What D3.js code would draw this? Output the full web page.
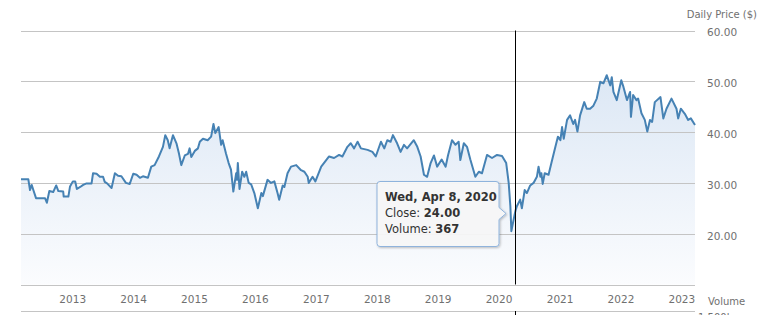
<!DOCTYPE html>
<html>
<head>
<meta charset="utf-8">
<script src="https://cdn.jsdelivr.net/npm/d3@7"></script>
<style>
  html, body { margin: 0; padding: 0; background: #fff; }
  svg { display: block; }
</style>
</head>
<body>
<svg id="chart" width="772" height="315"></svg>
<script>
// ---------------- DATA ----------------
const dates = [
  "2012-02-29","2012-04-13","2012-04-23","2012-05-03","2012-05-13","2012-05-29","2012-07-22","2012-08-02","2012-08-17","2012-09-09",
  "2012-09-27","2012-10-10","2012-11-08","2012-11-11","2012-12-09","2012-12-19","2013-01-05","2013-01-19","2013-01-29","2013-02-18",
  "2013-03-08","2013-03-28","2013-04-27","2013-05-06","2013-05-27","2013-06-16","2013-07-05","2013-07-15","2013-07-29","2013-08-25",
  "2013-09-14","2013-10-03","2013-10-23","2013-11-19","2013-12-12","2014-01-02","2014-01-22","2014-02-11","2014-03-01","2014-03-31",
  "2014-04-20","2014-05-10","2014-06-05","2014-06-29","2014-07-13","2014-07-28","2014-08-08","2014-08-28","2014-09-18","2014-10-03",
  "2014-10-17","2014-11-07","2014-11-26","2014-12-06","2014-12-16","2015-01-06","2015-01-25","2015-02-05","2015-02-24","2015-03-24",
  "2015-04-14","2015-04-28","2015-05-09","2015-05-29","2015-06-13","2015-06-22","2015-07-12","2015-07-28","2015-08-11","2015-08-25",
  "2015-09-11","2015-09-16","2015-09-21","2015-10-01","2015-10-17","2015-10-30","2015-11-10","2015-11-25","2015-12-10","2015-12-29",
  "2016-01-19","2016-02-09","2016-02-18","2016-03-17","2016-04-07","2016-04-27","2016-05-16","2016-05-26","2016-06-16","2016-06-26",
  "2016-07-15","2016-08-05","2016-09-05","2016-10-04","2016-10-24","2016-11-13","2016-11-19","2016-12-12","2016-12-29","2017-02-02",
  "2017-03-21","2017-04-20","2017-05-20","2017-06-09","2017-07-09","2017-07-29","2017-08-18","2017-09-08","2017-09-28","2017-11-07",
  "2017-12-06","2017-12-26","2018-01-26","2018-02-15","2018-03-05","2018-03-25","2018-04-08","2018-05-03","2018-05-24","2018-06-13",
  "2018-07-02","2018-08-11","2018-09-01","2018-09-21","2018-10-11","2018-10-30","2018-11-20","2018-12-10","2018-12-29","2019-01-25",
  "2019-02-18","2019-03-04","2019-03-28","2019-04-18","2019-05-07","2019-05-17","2019-06-07","2019-06-26","2019-07-16","2019-08-15",
  "2019-09-05","2019-09-24","2019-10-24","2019-11-23","2019-12-23","2020-01-22","2020-02-16","2020-03-02","2020-03-12","2020-03-18",
  "2020-04-08","2020-04-14","2020-04-20","2020-05-10","2020-05-20","2020-06-06","2020-06-19","2020-07-09","2020-07-29","2020-08-18",
  "2020-08-28","2020-09-08","2020-09-14","2020-09-22","2020-10-04","2020-10-27","2020-11-13","2020-11-27","2020-12-07","2020-12-22",
  "2021-01-06","2021-01-16","2021-01-26","2021-02-15","2021-03-05","2021-03-24","2021-04-04","2021-04-18","2021-05-04","2021-05-29",
  "2021-06-13","2021-07-03","2021-07-23","2021-08-12","2021-09-02","2021-09-21","2021-10-11","2021-11-01","2021-11-10","2021-11-20",
  "2021-12-10","2022-01-06","2022-01-19","2022-02-09","2022-02-28","2022-03-05","2022-03-18","2022-04-07","2022-04-17","2022-05-07",
  "2022-05-27","2022-06-11","2022-06-27","2022-07-10","2022-07-26","2022-08-29","2022-09-15","2022-10-04","2022-11-03","2022-12-03",
  "2022-12-13","2022-12-29","2023-01-22","2023-02-11","2023-02-27","2023-03-24"
];
const closes = [
  30.7,30.7,28.6,29.6,28.6,27.0,27.0,26.1,28.4,28.2,
  29.5,28.4,28.3,27.3,27.3,29.3,30.3,30.3,28.8,29.2,
  29.6,29.9,29.9,31.9,31.8,31.2,31.2,30.2,29.9,29.0,
  31.9,31.4,31.3,30.0,29.8,31.8,31.6,31.0,31.3,31.0,
  33.2,33.5,35.2,37.1,39.4,38.4,36.8,39.4,37.8,35.8,
  33.5,35.4,35.7,36.8,35.1,36.3,36.8,38.1,38.7,38.4,
  39.1,41.6,39.8,41.0,37.5,38.4,35.8,33.9,32.6,28.3,
  31.9,30.6,33.9,28.8,32.2,31.2,32.2,30.0,29.7,28.0,
  25.0,28.0,27.4,30.6,30.0,30.3,28.0,26.7,29.5,29.2,
  31.9,33.2,33.5,32.5,32.2,31.2,30.0,31.2,30.3,33.2,
  35.2,34.9,35.5,35.2,37.1,37.8,36.8,38.1,36.8,36.5,
  36.1,35.2,38.1,36.8,38.4,38.1,39.4,37.8,36.1,37.5,
  36.8,38.4,37.1,35.2,31.6,31.2,33.9,35.4,33.2,34.6,
  33.2,35.4,38.4,37.5,38.1,34.5,37.8,37.1,34.6,31.2,
  32.2,31.9,35.5,34.9,35.5,35.3,33.9,30.0,25.4,20.5,
  24.0,24.8,25.4,26.7,25.0,28.6,28.0,29.5,30.0,31.2,
  33.2,31.2,31.9,29.8,31.9,31.6,33.9,35.8,37.1,39.1,
  38.4,41.0,38.7,42.4,43.3,41.6,42.4,40.1,43.3,45.9,
  44.6,44.6,45.2,46.6,49.9,49.6,51.2,49.2,50.8,47.9,
  46.3,50.2,48.9,46.3,47.9,43.0,47.3,46.3,46.6,43.7,
  42.4,40.1,42.4,42.0,45.9,46.9,42.7,44.6,46.6,44.6,
  42.7,44.6,43.6,42.4,42.7,41.4
];
const yearTicks = [2013,2014,2015,2016,2017,2018,2019,2020,2021,2022,2023];
const priceTicks = [20, 30, 40, 50, 60];
const axisTitle = "Daily Price ($)";
const volumeTitle = "Volume";
const volumeTickPartial = "1,500k";
const tooltipDate = "2020-04-08";
const tooltipTitle = "Wed, Apr 8, 2020";
const tooltipClose = 24.00;
const tooltipVolume = 367;

// ---------------- CHART ----------------
(function () {
const parse = d3.utcParse("%Y-%m-%d");
const data = dates.map((d, i) => ({ date: parse(d), value: closes[i] }));

const svg = d3.select("#chart");
const pLeft = 21, pRight = 695, pTop = 30.5, pBottom = 284.5;
const FONT = "'DejaVu Sans', Verdana, sans-serif";

const x = d3.scaleUtc()
  .domain([parse("2012-02-29"), parse("2023-03-24")])
  .range([pLeft, pRight]);
const y = d3.scaleLinear().domain([10, 60]).range([pBottom, pTop]);

const defs = svg.append("defs");
const grad = defs.append("linearGradient")
  .attr("id", "areaGrad").attr("gradientUnits", "userSpaceOnUse")
  .attr("x1", 0).attr("x2", 0).attr("y1", y(50)).attr("y2", y(10));
grad.append("stop").attr("offset", "0%").attr("stop-color", "#dde8f5");
grad.append("stop").attr("offset", "100%").attr("stop-color", "#fbfcfe");

const shadow = defs.append("filter").attr("id", "shadow")
  .attr("x", "-10%").attr("y", "-10%").attr("width", "130%").attr("height", "140%");
shadow.append("feDropShadow").attr("dx", 1).attr("dy", 1).attr("stdDeviation", 1)
  .attr("flood-color", "#000").attr("flood-opacity", 0.25);

const area = d3.area().x(d => x(d.date)).y0(y(10)).y1(d => y(d.value));
svg.append("path").datum(data).attr("d", area).attr("fill", "url(#areaGrad)");

svg.append("g").selectAll("line").data(priceTicks).join("line")
  .attr("x1", pLeft).attr("x2", pRight)
  .attr("y1", d => Math.round(y(d)) + 0.5).attr("y2", d => Math.round(y(d)) + 0.5)
  .attr("stroke", "#c4c4c4").attr("stroke-width", 1);

[pBottom, 311].forEach(v => {
  svg.append("line").attr("x1", pLeft).attr("x2", pRight)
    .attr("y1", Math.round(v) + 0.5).attr("y2", Math.round(v) + 0.5)
    .attr("stroke", "#c4c4c4").attr("stroke-width", 1);
});

const xAxis = d3.axisBottom(x)
  .tickValues(yearTicks.map(yv => new Date(Date.UTC(yv, 0, 1))))
  .tickFormat(d3.utcFormat("%Y")).tickSize(0).tickPadding(0);
const gx = svg.append("g").attr("transform", "translate(0, 303)").call(xAxis);
gx.select(".domain").remove();
gx.selectAll("text").attr("dy", 0).attr("y", 0)
  .attr("font-family", FONT).attr("font-size", "10.5px").attr("fill", "#707070");

const yAxis = d3.axisRight(y).tickValues(priceTicks).tickFormat(d3.format(".2f"))
  .tickSize(0).tickPadding(0);
const gy = svg.append("g").attr("transform", "translate(707, 2)").call(yAxis);
gy.select(".domain").remove();
gy.selectAll("text").attr("font-family", FONT).attr("font-size", "10.5px").attr("fill", "#707070");

svg.append("text").attr("x", 757).attr("y", 18).attr("text-anchor", "end")
  .attr("font-family", FONT).attr("font-size", "10px").attr("fill", "#707070")
  .text(axisTitle);
svg.append("text").attr("x", 708).attr("y", 305)
  .attr("font-family", FONT).attr("font-size", "10px").attr("fill", "#707070")
  .text(volumeTitle);
svg.append("text").attr("x", 698).attr("y", 321)
  .attr("font-family", FONT).attr("font-size", "10px").attr("fill", "#707070")
  .text(volumeTickPartial);

const line = d3.line().x(d => x(d.date)).y(d => y(d.value));
svg.append("path").datum(data).attr("d", line)
  .attr("fill", "none").attr("stroke", "#4682b4").attr("stroke-width", 2)
  .attr("stroke-linejoin", "round");

const cx = Math.round(x(parse(tooltipDate))) + 0.5;
svg.append("line").attr("x1", cx).attr("x2", cx).attr("y1", pTop).attr("y2", pBottom)
  .attr("stroke", "#000").attr("stroke-width", 1);
svg.append("line").attr("x1", cx).attr("x2", cx).attr("y1", 311).attr("y2", 315)
  .attr("stroke", "#000").attr("stroke-width", 1);

const tipX = cx - 9.5, tipY = Math.round(y(tooltipClose)) + 0.5;
const bw = 122, bh = 65, r = 3;
const bx1 = tipX - 7 - bw, bx2 = tipX - 7, by1 = tipY - 32, by2 = by1 + bh;
const tipPath = `M${bx1 + r},${by1} L${bx2 - r},${by1} Q${bx2},${by1} ${bx2},${by1 + r}
  L${bx2},${tipY - 6} L${tipX},${tipY} L${bx2},${tipY + 6}
  L${bx2},${by2 - r} Q${bx2},${by2} ${bx2 - r},${by2} L${bx1 + r},${by2}
  Q${bx1},${by2} ${bx1},${by2 - r} L${bx1},${by1 + r} Q${bx1},${by1} ${bx1 + r},${by1} Z`;
const tg = svg.append("g");
tg.append("path").attr("d", tipPath).attr("fill", "rgba(249,249,249,0.92)")
  .attr("stroke", "#8fb3dc").attr("stroke-width", 1).attr("filter", "url(#shadow)");
const tt = tg.append("text").attr("font-family", FONT).attr("font-size", "11.5px").attr("fill", "#333");
tt.append("tspan").attr("x", bx1 + 8).attr("y", by1 + 19).attr("font-weight", "bold").text(tooltipTitle);
const l2 = tt.append("tspan").attr("x", bx1 + 8).attr("y", by1 + 35);
l2.append("tspan").text("Close: ");
l2.append("tspan").attr("font-weight", "bold").text(d3.format(".2f")(tooltipClose));
const l3 = tt.append("tspan").attr("x", bx1 + 8).attr("y", by1 + 51);
l3.append("tspan").text("Volume: ");
l3.append("tspan").attr("font-weight", "bold").text(d3.format(",")(tooltipVolume));
})();
</script>
</body>
</html>
